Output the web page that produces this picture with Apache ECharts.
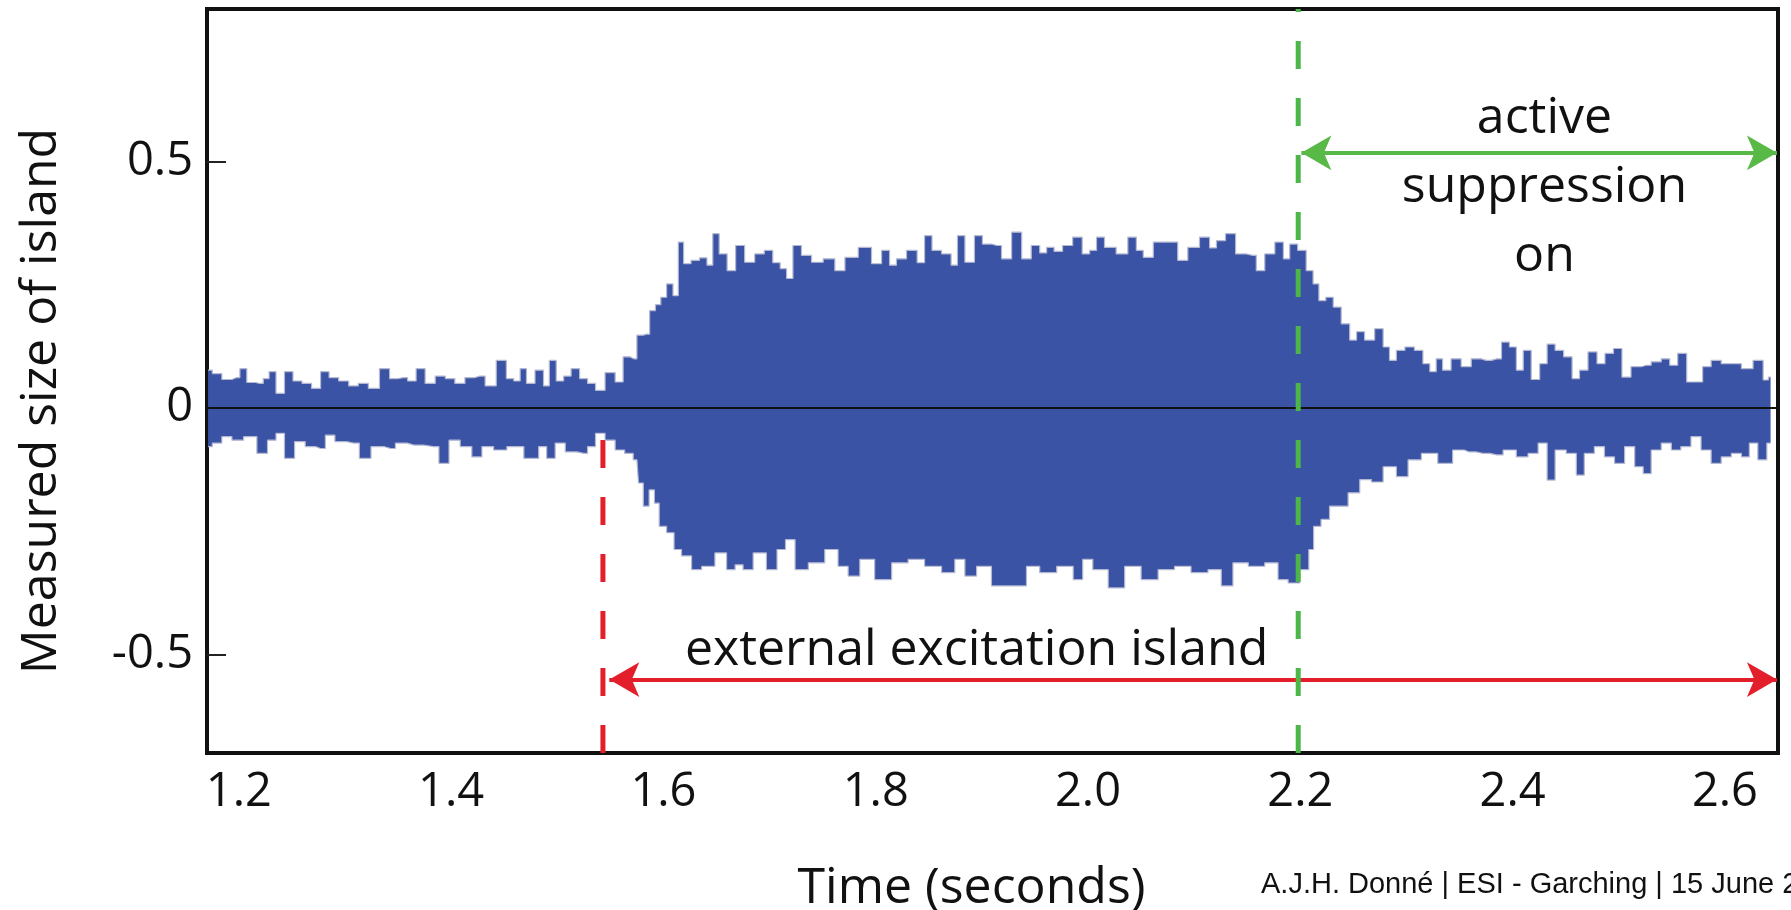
<!DOCTYPE html>
<html>
<head>
<meta charset="utf-8">
<title>Measured size of island</title>
<script src="https://cdn.jsdelivr.net/npm/echarts@6/dist/echarts.min.js"></script>
<style>
  html, body { margin: 0; padding: 0; background: #ffffff; }
  #chart { width: 1791px; height: 910px; }
</style>
</head>
<body>
<div id="chart"></div>
<script>
// Tick positions on both axes
const timeTicks = [1.2, 1.4, 1.6, 1.8, 2.0, 2.2, 2.4, 2.6];
const sizeTicks = [-0.5, 0, 0.5];

// Upper envelope of the oscillating island signal: [time (s), size]
const upperEnvelope = [
  [1.171,0.077],[1.179,0.070],[1.189,0.058],[1.198,0.062],[1.204,0.080],[1.211,0.052],[1.220,0.050],[1.226,0.060],
  [1.231,0.074],[1.239,0.030],[1.247,0.074],[1.255,0.055],[1.264,0.050],[1.273,0.040],[1.281,0.074],[1.289,0.062],
  [1.299,0.055],[1.308,0.045],[1.317,0.050],[1.327,0.040],[1.338,0.080],[1.346,0.060],[1.355,0.062],[1.363,0.055],
  [1.371,0.080],[1.380,0.050],[1.390,0.065],[1.399,0.060],[1.408,0.050],[1.418,0.062],[1.427,0.065],[1.437,0.045],
  [1.448,0.097],[1.456,0.060],[1.462,0.055],[1.468,0.080],[1.474,0.050],[1.484,0.077],[1.490,0.045],[1.495,0.097],
  [1.503,0.055],[1.509,0.065],[1.517,0.080],[1.525,0.060],[1.532,0.050],[1.540,0.036],[1.550,0.072],[1.559,0.053],
  [1.565,0.104],[1.572,0.100],[1.578,0.148],[1.584,0.150],[1.590,0.198],[1.595,0.210],[1.600,0.225],[1.606,0.252],
  [1.612,0.228],[1.616,0.337],[1.622,0.293],[1.630,0.300],[1.638,0.305],[1.644,0.290],[1.649,0.354],[1.656,0.313],
  [1.664,0.279],[1.672,0.330],[1.681,0.296],[1.691,0.313],[1.699,0.320],[1.707,0.295],[1.713,0.283],[1.719,0.263],
  [1.725,0.330],[1.735,0.310],[1.744,0.296],[1.757,0.303],[1.766,0.279],[1.776,0.306],[1.791,0.326],[1.801,0.293],
  [1.810,0.320],[1.816,0.290],[1.823,0.303],[1.835,0.320],[1.843,0.295],[1.849,0.350],[1.857,0.320],[1.867,0.313],
  [1.875,0.290],[1.879,0.350],[1.889,0.296],[1.897,0.350],[1.904,0.333],[1.914,0.330],[1.923,0.303],[1.933,0.357],
  [1.942,0.303],[1.951,0.330],[1.958,0.315],[1.964,0.326],[1.972,0.318],[1.980,0.330],[1.991,0.347],[1.998,0.313],
  [2.005,0.320],[2.011,0.347],[2.020,0.326],[2.033,0.313],[2.042,0.347],[2.049,0.320],[2.055,0.306],[2.068,0.337],
  [2.080,0.337],[2.089,0.300],[2.099,0.326],[2.111,0.347],[2.118,0.325],[2.124,0.340],[2.135,0.354],[2.143,0.313],
  [2.155,0.310],[2.162,0.279],[2.171,0.313],[2.181,0.337],[2.187,0.303],[2.193,0.333],[2.202,0.320],[2.209,0.279],
  [2.215,0.252],[2.220,0.218],[2.228,0.225],[2.234,0.205],[2.243,0.171],[2.250,0.138],[2.256,0.155],[2.265,0.138],
  [2.275,0.161],[2.281,0.124],[2.287,0.097],[2.294,0.117],[2.303,0.124],[2.312,0.117],[2.319,0.090],[2.325,0.074],
  [2.331,0.100],[2.337,0.077],[2.347,0.100],[2.356,0.084],[2.366,0.100],[2.375,0.097],[2.385,0.100],[2.394,0.134],
  [2.400,0.124],[2.407,0.077],[2.413,0.117],[2.422,0.058],[2.429,0.090],[2.436,0.130],[2.444,0.117],[2.452,0.104],
  [2.460,0.060],[2.466,0.077],[2.476,0.114],[2.483,0.090],[2.491,0.111],[2.499,0.121],[2.507,0.063],[2.516,0.084],
  [2.526,0.087],[2.535,0.094],[2.545,0.100],[2.551,0.087],[2.560,0.111],[2.568,0.053],[2.576,0.053],[2.582,0.084],
  [2.592,0.097],[2.601,0.090],[2.611,0.090],[2.620,0.080],[2.633,0.097],[2.639,0.057],[2.643,0.063]
];

// Lower envelope of the same signal: [time (s), size]
const lowerEnvelope = [
  [1.171,-0.078],[1.179,-0.071],[1.189,-0.058],[1.198,-0.065],[1.211,-0.058],[1.223,-0.092],[1.231,-0.065],[1.239,-0.051],
  [1.247,-0.102],[1.258,-0.068],[1.267,-0.078],[1.277,-0.082],[1.286,-0.055],[1.295,-0.068],[1.308,-0.071],[1.319,-0.102],
  [1.330,-0.078],[1.343,-0.082],[1.352,-0.071],[1.365,-0.075],[1.383,-0.078],[1.394,-0.112],[1.402,-0.065],[1.415,-0.078],
  [1.424,-0.099],[1.434,-0.078],[1.446,-0.085],[1.459,-0.078],[1.478,-0.102],[1.487,-0.078],[1.493,-0.102],[1.503,-0.071],
  [1.512,-0.089],[1.525,-0.092],[1.532,-0.078],[1.540,-0.051],[1.550,-0.065],[1.559,-0.085],[1.568,-0.092],[1.575,-0.105],
  [1.578,-0.152],[1.584,-0.199],[1.589,-0.166],[1.594,-0.193],[1.598,-0.240],[1.608,-0.253],[1.612,-0.287],[1.622,-0.300],
  [1.631,-0.328],[1.641,-0.321],[1.656,-0.294],[1.663,-0.328],[1.672,-0.318],[1.678,-0.328],[1.691,-0.294],[1.703,-0.328],
  [1.711,-0.287],[1.719,-0.267],[1.729,-0.328],[1.744,-0.314],[1.760,-0.287],[1.769,-0.321],[1.779,-0.341],[1.791,-0.307],
  [1.807,-0.348],[1.823,-0.314],[1.838,-0.307],[1.854,-0.321],[1.870,-0.334],[1.879,-0.307],[1.889,-0.341],[1.901,-0.321],
  [1.917,-0.361],[1.936,-0.361],[1.948,-0.321],[1.961,-0.334],[1.980,-0.321],[1.992,-0.348],[1.998,-0.307],[2.011,-0.328],
  [2.027,-0.365],[2.042,-0.321],[2.058,-0.348],[2.074,-0.328],[2.089,-0.321],[2.105,-0.334],[2.121,-0.328],[2.130,-0.361],
  [2.143,-0.314],[2.159,-0.321],[2.174,-0.314],[2.184,-0.348],[2.193,-0.355],[2.206,-0.328],[2.210,-0.287],[2.215,-0.240],
  [2.224,-0.226],[2.231,-0.199],[2.240,-0.199],[2.250,-0.172],[2.262,-0.145],[2.272,-0.150],[2.284,-0.119],[2.297,-0.139],
  [2.306,-0.105],[2.322,-0.092],[2.337,-0.112],[2.350,-0.085],[2.359,-0.089],[2.372,-0.092],[2.385,-0.095],[2.397,-0.085],
  [2.410,-0.099],[2.419,-0.092],[2.429,-0.071],[2.436,-0.146],[2.444,-0.085],[2.457,-0.092],[2.463,-0.136],[2.472,-0.092],
  [2.482,-0.078],[2.491,-0.099],[2.501,-0.112],[2.510,-0.078],[2.520,-0.119],[2.526,-0.133],[2.535,-0.085],[2.545,-0.071],
  [2.554,-0.085],[2.563,-0.078],[2.573,-0.058],[2.582,-0.085],[2.592,-0.112],[2.601,-0.099],[2.611,-0.092],[2.620,-0.099],
  [2.626,-0.071],[2.636,-0.105],[2.643,-0.071]
];

// Event times (s)
const excitationStart = 1.543;
const suppressionStart = 2.198;

// Phase captions
const excitationCaption = 'external excitation island';
const suppressionCaption = 'active\nsuppression\non';

const X_MIN = 1.17, X_MAX = 2.65;
const Y_MIN = -0.70, Y_MAX = 0.81;

const FONT = '"Open Sans", "Noto Sans", sans-serif';
const INK = '#111111';
const BLUE = '#3b53a5';
const RED = '#e21f2a';
const GREEN = '#58b947';
const GREEN_DASH = '#4cb648';

const chart = echarts.init(document.getElementById('chart'), null, { renderer: 'canvas' });

const envelopeSeries = (name, data) => ({
  name,
  type: 'line',
  data,
  step: 'middle',
  symbol: 'none',
  silent: true,
  z: 3,
  lineStyle: { color: '#b4b9d2', width: 1.2 },
  areaStyle: { color: BLUE, opacity: 1, origin: 0 }
});

const option = {
  animation: false,
  backgroundColor: '#ffffff',
  textStyle: { fontFamily: FONT, color: INK },
  grid: {
    left: 207, right: 13, top: 9, bottom: 157,
    containLabel: false,
    outerBoundsMode: 'none',
    show: true,
    borderColor: '#111111',
    borderWidth: 4,
    backgroundColor: 'transparent'
  },
  xAxis: {
    type: 'value',
    min: X_MIN,
    max: X_MAX,
    name: 'Time (seconds)',
    nameLocation: 'middle',
    nameGap: 111,
    nameTextStyle: { fontFamily: FONT, fontSize: 50, color: INK, padding: [0, 42, 0, 0] },
    axisLine: { show: false },
    splitLine: { show: false },
    axisTick: {
      show: true, inside: true, length: 20,
      customValues: timeTicks,
      lineStyle: { color: '#222222', width: 2 }
    },
    axisLabel: {
      customValues: timeTicks,
      formatter: v => v.toFixed(1),
      fontFamily: FONT, fontSize: 47, color: INK,
      margin: 16
    }
  },
  yAxis: {
    type: 'value',
    min: Y_MIN,
    max: Y_MAX,
    name: 'Measured size of island',
    nameLocation: 'middle',
    nameGap: 140,
    nameTextStyle: { fontFamily: FONT, fontSize: 50, color: INK, padding: [0, 40, 0, 0] },
    axisLine: { show: false },
    splitLine: { show: false },
    axisTick: {
      show: true, inside: true, length: 19,
      customValues: sizeTicks,
      lineStyle: { color: '#222222', width: 2 }
    },
    axisLabel: {
      customValues: sizeTicks,
      formatter: v => (v === 0 ? '0' : v.toFixed(1)),
      fontFamily: FONT, fontSize: 47, color: INK,
      margin: 14
    }
  },
  series: [
    // Start of the external excitation (drawn beneath the signal)
    {
      name: 'excitation start',
      type: 'line',
      data: [[excitationStart, Y_MIN], [excitationStart, 0]],
      symbol: 'none',
      silent: true,
      z: 1,
      lineStyle: { color: RED, width: 5, type: [28, 29] }
    },
    envelopeSeries('upper', upperEnvelope),
    envelopeSeries('lower', lowerEnvelope),
    // Zero reference line
    {
      name: 'zero',
      type: 'line',
      data: [[X_MIN, 0], [X_MAX, 0]],
      symbol: 'none',
      silent: true,
      z: 4,
      lineStyle: { color: '#111111', width: 2 }
    },
    // Start of active suppression (drawn over the signal)
    {
      name: 'suppression start',
      type: 'line',
      data: [[suppressionStart, Y_MIN], [suppressionStart, Y_MAX]],
      symbol: 'none',
      silent: true,
      z: 5,
      lineStyle: { color: GREEN_DASH, width: 5, type: [28, 29] },
      markLine: {
        silent: true,
        symbol: ['arrow', 'arrow'],
        symbolSize: [26, 30],
        label: { show: false },
        data: [
          [
            { coord: [excitationStart + 0.006, -0.551], lineStyle: { color: RED, width: 4, type: 'solid' }, itemStyle: { color: RED } },
            { coord: [X_MAX - 0.001, -0.551] }
          ],
          [
            { coord: [suppressionStart + 0.003, 0.518], lineStyle: { color: GREEN, width: 4, type: 'solid' }, itemStyle: { color: GREEN } },
            { coord: [X_MAX - 0.001, 0.518] }
          ]
        ]
      }
    },
    // Phase captions anchored in data coordinates
    {
      name: 'captions',
      type: 'scatter',
      silent: true,
      z: 6,
      symbolSize: 1,
      itemStyle: { color: 'rgba(0,0,0,0)', opacity: 1 },
      label: {
        show: true,
        position: 'inside',
        formatter: p => p.data.caption,
        fontFamily: FONT,
        fontSize: 50,
        lineHeight: 69,
        color: INK,
        opacity: 1,
        align: 'center',
        verticalAlign: 'middle'
      },
      data: [
        { value: [1.895, -0.492], caption: excitationCaption },
        { value: [2.430, 0.447], caption: suppressionCaption }
      ]
    }
  ],
  graphic: [
    {
      type: 'text',
      left: 1261,
      top: 870,
      silent: true,
      style: {
        text: 'A.J.H. Donné | ESI - Garching | 15 June 2',
        font: '29px "Liberation Sans", Arial, sans-serif',
        fill: '#111111'
      }
    }
  ]
};

chart.setOption(option);
</script>
</body>
</html>
